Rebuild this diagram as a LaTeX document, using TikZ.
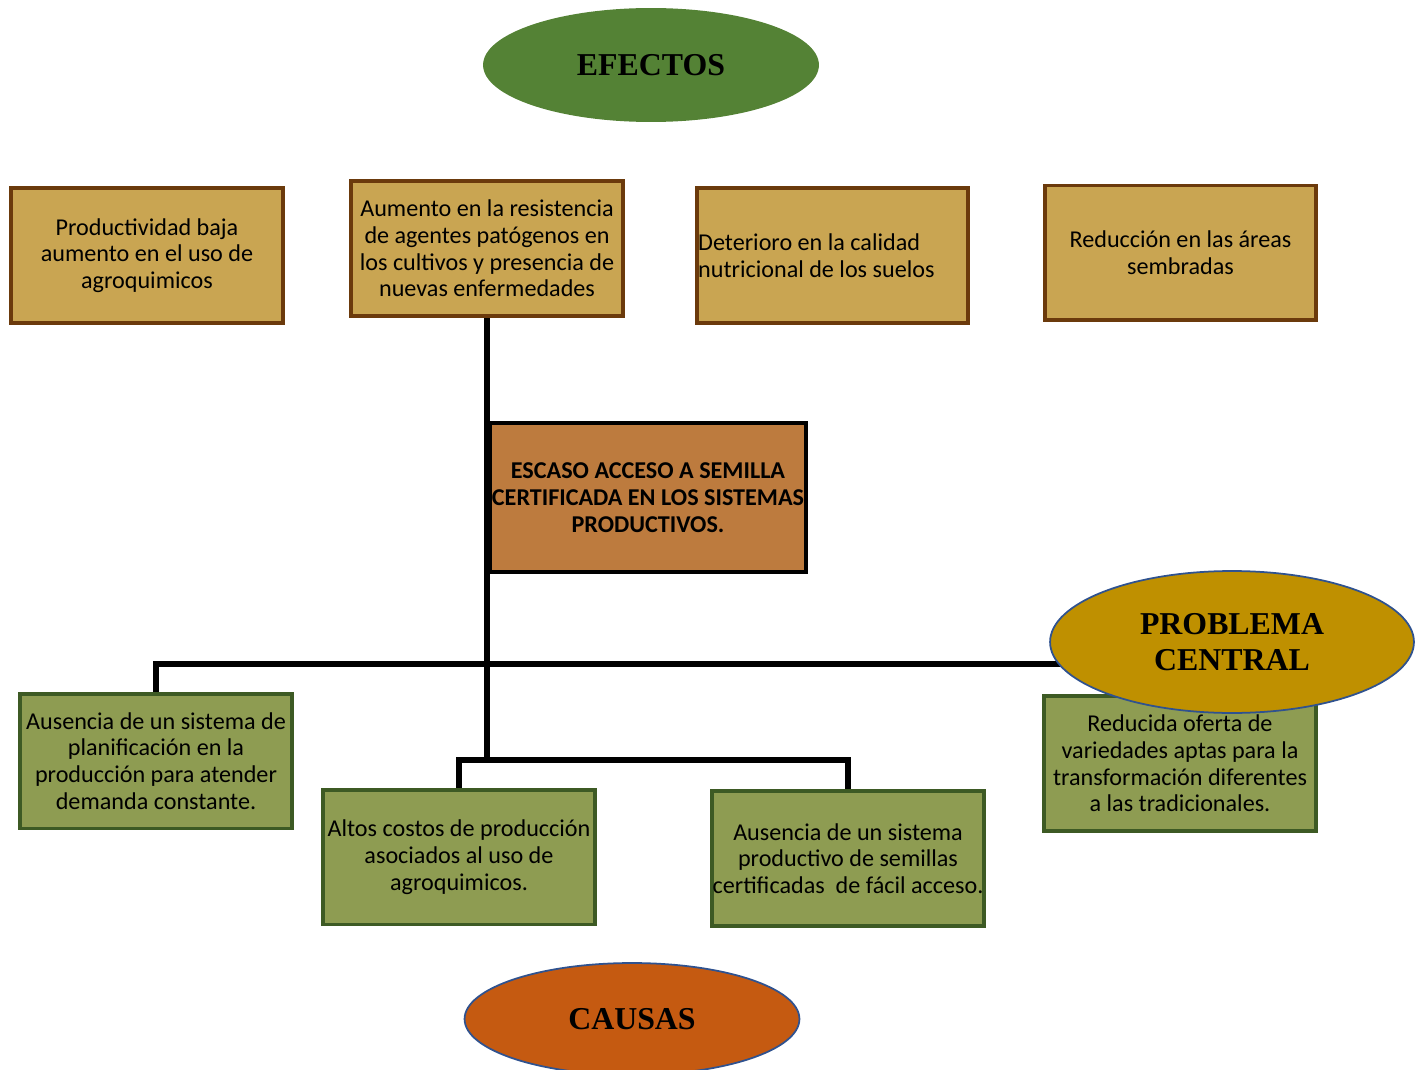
\documentclass[tikz,border=0pt]{standalone}
\usepackage{fontspec}
\setmainfont{Carlito}
\newfontfamily\titlefont{Liberation Serif}
\usetikzlibrary{shapes.geometric,backgrounds}

\definecolor{efectofill}{HTML}{C9A552}
\definecolor{efectoline}{HTML}{6B3A0C}
\definecolor{centralfill}{HTML}{BD7B3E}
\definecolor{causafill}{HTML}{8E9C52}
\definecolor{causaline}{HTML}{3D5A24}
\definecolor{efectosfill}{HTML}{548235}
\definecolor{problemafill}{HTML}{BF9000}
\definecolor{causasfill}{HTML}{C55A11}
\definecolor{elipseline}{HTML}{2F528F}

\tikzset{
  caja/.style={rectangle, line width=1.8pt, minimum width=4.35cm, minimum height=2.16cm,
    inner sep=0pt, align=center, font=\fontsize{11}{12.2}\selectfont},
  efecto/.style={caja, draw=efectoline, fill=efectofill},
  causa/.style={caja, draw=causaline, fill=causafill},
  titulo/.style={ellipse, inner sep=0pt, align=center,
    font=\titlefont\bfseries\fontsize{14.5}{16.5}\selectfont},
  link/.style={line width=2.3pt, black}
}

\begin{document}
\begin{tikzpicture}[x=0.016cm,y=-0.016cm]
  \useasboundingbox (0,0) rectangle (1420,1070);

  \node[titulo, fill=efectosfill, minimum width=5.376cm, minimum height=1.824cm] (efectos) at (651,65) {EFECTOS};

  % efectos
  \node[efecto] (efe1) at (147,255.5) {Productividad baja\\aumento en el uso de\\agroquimicos};
  \node[efecto] (efe2) at (487,248.5) {Aumento en la resistencia\\de agentes patógenos en\\los cultivos y presencia de\\nuevas enfermedades};
  \node[efecto, text width=4.3cm, align=flush left] (efe3) at (832.5,255.5) {Deterioro en la calidad\\nutricional de los suelos};
  \node[efecto] (efe4) at (1180.5,253) {Reducción en las áreas\\sembradas};

  % problema central
  \node[caja, draw=black, line width=2pt, fill=centralfill, minimum width=5.056cm, minimum height=2.384cm,
    font=\bfseries\fontsize{11}{12.2}\selectfont] (central) at (648,497.5)
    {ESCASO ACCESO A SEMILLA\\CERTIFICADA EN LOS SISTEMAS\\PRODUCTIVOS.};

  % causas
  \node[causa] (cau1) at (156,761) {Ausencia de un sistema de\\planificación en la\\producción para atender\\demanda constante.};
  \node[causa] (cau2) at (459,857) {Altos costos de producción\\asociados al uso de\\agroquimicos.};
  \node[causa] (cau3) at (848,858.5) {Ausencia de un sistema\\productivo de semillas\\certificadas\ \ de fácil acceso.};
  \node[causa] (cau4) at (1180,763.5) {Reducida oferta de\\variedades aptas para la\\transformación diferentes\\a las tradicionales.};

  \node[titulo, draw=elipseline, line width=0.8pt, fill=problemafill, minimum width=5.824cm, minimum height=2.272cm] (problema) at (1232,642) {PROBLEMA\\CENTRAL};
  \node[titulo, draw=elipseline, line width=0.8pt, fill=causasfill, minimum width=5.36cm, minimum height=1.792cm] (causas) at (632,1019) {CAUSAS};

  \coordinate (j1) at (487,664);
  \coordinate (j2) at (487,760);

  \begin{scope}[on background layer]
    \draw[link] (efe2.south) -- (j2);
    \draw[link] (cau1.north) |- (j1) -- (j1 -| problema.center);
    \draw[link] (cau2.north) |- (j2) -| (cau3.north);
  \end{scope}
\end{tikzpicture}
\end{document}
